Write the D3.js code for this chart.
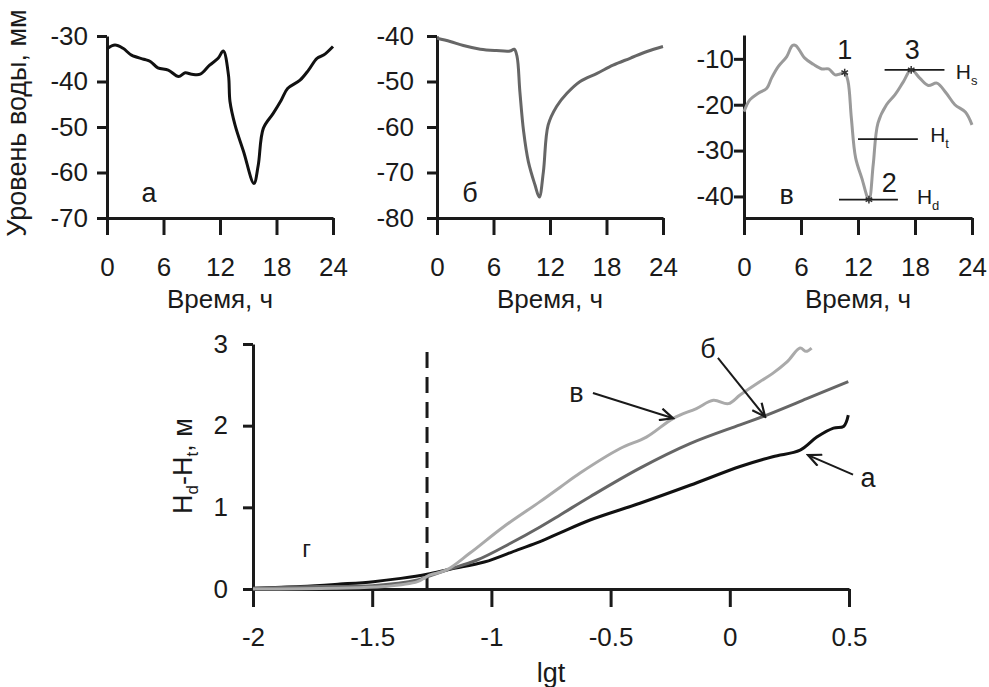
<!DOCTYPE html>
<html>
<head>
<meta charset="utf-8">
<script src="https://cdn.jsdelivr.net/npm/d3@7"></script>
<style>
  body { margin: 0; background: #fff; }
  svg { font-family: "Liberation Sans", Arial, sans-serif; }
  .axis path, .axis line { stroke: #1a1a1a; stroke-width: 3; }
  .axis text { font-size: 26px; fill: #1a1a1a; font-family: "Liberation Sans", Arial, sans-serif; }
</style>
</head>
<body>
<script>
// --- top panels: water level over 24 h
const hourTicks = [0, 6, 12, 18, 24];

const hoursA = [0, 0.85, 1.7, 2.6, 3.9, 4.6, 5.4, 6.5, 7.6, 8.3, 9.0, 9.9, 10.9, 11.8, 12.35, 12.9, 13.06, 13.6, 14.5, 15.6, 16.06, 16.6, 17.65, 18.5, 19.2, 20.5, 21.4, 22.3, 23.0, 24.0];
const levelA = [-32.8, -32.0, -32.7, -34.2, -35.1, -35.6, -37.0, -37.5, -38.9, -38.1, -38.4, -38.4, -36.4, -34.9, -33.3, -38.6, -44.4, -49.6, -55.4, -62.4, -58.4, -50.3, -47.0, -44.1, -41.5, -39.7, -37.5, -34.9, -34.2, -32.3];
const ticksA = [-30, -40, -50, -60, -70];

const hoursB = [0, 1.4, 2.8, 4.6, 6.3, 7.75, 8.2, 8.5, 8.8, 9.2, 9.7, 10.4, 10.86, 11.3, 11.8, 12.7, 13.8, 15.2, 17.0, 18.7, 20.5, 22.3, 24.0];
const levelB = [-40.5, -41.2, -42.1, -42.9, -43.2, -43.3, -42.9, -44.5, -52.2, -61.0, -67.6, -72.7, -75.4, -69.8, -59.6, -55.5, -52.6, -50.0, -48.2, -46.4, -44.9, -43.4, -42.3];
const ticksB = [-40, -50, -60, -70, -80];

const hoursV = [0, 0.63, 1.5, 2.4, 2.9, 3.6, 4.5, 5.1, 5.45, 6.4, 7.3, 8.2, 8.9, 9.6, 10.1, 10.6, 10.95, 11.3, 11.75, 12.4, 13.15, 13.6, 14.1, 15.0, 15.9, 16.8, 17.6, 18.5, 19.4, 20.3, 21.3, 22.2, 23.3, 24.0];
const levelV = [-21.5, -18.9, -17.5, -16.4, -14.2, -11.7, -9.5, -7.1, -7.1, -9.85, -11.2, -12.2, -12.2, -13.5, -13.3, -13.0, -14.9, -22.9, -31.6, -36.0, -40.7, -33.1, -24.0, -20.0, -17.8, -14.9, -12.4, -14.2, -15.8, -15.3, -17.5, -20.0, -21.6, -24.4];
const ticksV = [-10, -20, -30, -40];
const keyPointHours = [10.6, 13.15, 17.6];
const keyPointLevels = [-13.0, -40.7, -12.4];
const keyPointNames = ["1", "2", "3"];

// --- bottom panel: Hd-Ht vs lgt
const lgtTicks = [-2, -1.5, -1, -0.5, 0, 0.5];
const dhTicks = [0, 1, 2, 3];
const dashedLgt = -1.27;

const lgtA = [-2, -1.8, -1.635, -1.495, -1.38, -1.27, -1.17, -1.03, -0.89, -0.796, -0.71, -0.586, -0.377, -0.167, 0.043, 0.18, 0.295, 0.365, 0.435, 0.477, 0.497];
const dhA  = [0.01, 0.03, 0.06, 0.09, 0.13, 0.18, 0.245, 0.33, 0.48, 0.58, 0.69, 0.845, 1.05, 1.27, 1.50, 1.62, 1.70, 1.86, 1.97, 1.99, 2.13];

const lgtB = [-2, -1.73, -1.5, -1.31, -1.27, -1.19, -1.06, -0.92, -0.796, -0.71, -0.586, -0.377, -0.167, 0.043, 0.155, 0.323, 0.497];
const dhB  = [0.01, 0.03, 0.04, 0.11, 0.15, 0.23, 0.355, 0.56, 0.76, 0.91, 1.13, 1.48, 1.78, 2.01, 2.13, 2.33, 2.54];

const lgtV = [-2, -1.66, -1.45, -1.31, -1.26, -1.19, -1.09, -0.95, -0.796, -0.71, -0.628, -0.46, -0.35, -0.237, -0.14, -0.069, -0.006, 0.043, 0.127, 0.18, 0.24, 0.295, 0.32, 0.343];
const dhV  = [0.0, 0.01, 0.03, 0.09, 0.17, 0.23, 0.44, 0.76, 1.07, 1.25, 1.42, 1.72, 1.86, 2.09, 2.21, 2.31, 2.27, 2.375, 2.54, 2.64, 2.78, 2.95, 2.91, 2.95];

const W = 989, H = 687;
const svg = d3.select("body").append("svg")
    .attr("width", W)
    .attr("height", H);
svg.append("rect").attr("width", W).attr("height", H).attr("fill", "#fff");

svg.append("defs").append("marker")
    .attr("id", "arr")
    .attr("viewBox", "-14 -7 16 14")
    .attr("markerWidth", 16).attr("markerHeight", 14)
    .attr("markerUnits", "userSpaceOnUse")
    .attr("refX", 0).attr("refY", 0)
    .attr("orient", "auto")
    .append("path")
    .attr("d", "M-13,-6L0,0L-13,6")
    .attr("fill", "none")
    .attr("stroke", "#1a1a1a")
    .attr("stroke-width", 2.2);

const fmt = d => String(d);

function topPanel(hours, levels, yTicks, yDomain, box, color, pad, letter, letterPos) {
    const x = d3.scaleLinear().domain([0, 24]).range([box.left, box.right]);
    const y = d3.scaleLinear().domain(yDomain).range([218, box.top]);

    svg.append("g").attr("class", "axis")
        .attr("transform", "translate(0,218)")
        .call(d3.axisBottom(x).tickValues(hourTicks).tickSize(17).tickSizeOuter(0).tickPadding(23).tickFormat(fmt));

    svg.append("g").attr("class", "axis")
        .attr("transform", `translate(${box.left},0)`)
        .call(d3.axisLeft(y).tickValues(yTicks).tickSize(10).tickSizeOuter(0).tickPadding(pad).tickFormat(fmt));

    svg.append("path")
        .datum(d3.zip(hours, levels))
        .attr("fill", "none")
        .attr("stroke", color)
        .attr("stroke-width", 3)
        .attr("stroke-linejoin", "round")
        .attr("d", d3.line().curve(d3.curveCatmullRom.alpha(0.5)).x(d => x(d[0])).y(d => y(d[1])));

    svg.append("text")
        .attr("x", x(letterPos[0])).attr("y", y(letterPos[1]))
        .attr("text-anchor", "middle").attr("dy", "0.35em")
        .attr("font-size", 27).attr("fill", "#1a1a1a")
        .text(letter);

    svg.append("text")
        .attr("x", (box.left + box.right) / 2).attr("y", 308)
        .attr("text-anchor", "middle")
        .attr("font-size", 26).attr("fill", "#1a1a1a")
        .text("Время, ч");
    return {x, y};
}

topPanel(hoursA, levelA, ticksA, [-70, -30], {left: 107, right: 333, top: 36}, "#111", 9, "а", [4.46, -64.3]);
topPanel(hoursB, levelB, ticksB, [-80, -40], {left: 437, right: 663, top: 36}, "#666", 13, "б", [3.5, -74.5]);
const pv = topPanel(hoursV, levelV, ticksV, [-44.7, -4.8], {left: 744, right: 972, top: 35}, "#9a9a9a", 0, "в", [4.5, -39.6]);

svg.append("text")
    .attr("transform", "translate(26,123) rotate(-90)")
    .attr("text-anchor", "middle")
    .attr("font-size", 27).attr("fill", "#1a1a1a")
    .text("Уровень воды, мм");

// reference levels on panel в
const refLines = [
    {h0: 14.8, h1: 21.1, v: -12.4, label: "s", lh: 22.3, lv: -12.8},
    {h0: 12.0, h1: 18.3, v: -27.5, label: "t", lh: 19.6, lv: -26.6},
    {h0: 10.0, h1: 16.2, v: -40.7, label: "d", lh: 18.2, lv: -40.1}
];
refLines.forEach(r => {
    svg.append("line")
        .attr("x1", pv.x(r.h0)).attr("x2", pv.x(r.h1))
        .attr("y1", pv.y(r.v)).attr("y2", pv.y(r.v))
        .attr("stroke", "#1a1a1a").attr("stroke-width", 1.6);
    const t = svg.append("text")
        .attr("x", pv.x(r.lh)).attr("y", pv.y(r.lv)).attr("dy", "0.35em")
        .attr("font-size", 21).attr("fill", "#1a1a1a");
    t.append("tspan").text("H");
    t.append("tspan").attr("font-size", 13).attr("dy", 6).text(r.label);
});

svg.selectAll(".keypt")
    .data(d3.zip(keyPointHours, keyPointLevels))
    .join("path")
    .attr("class", "keypt")
    .attr("transform", d => `translate(${pv.x(d[0])},${pv.y(d[1])})`)
    .attr("d", d3.symbol(d3.symbolAsterisk, 40))
    .attr("fill", "none").attr("stroke", "#333").attr("stroke-width", 1.5);

const keyLabelPos = [[10.6, -8.0], [15.3, -37.0], [17.7, -8.0]];
keyLabelPos.forEach((p, i) => {
    svg.append("text")
        .attr("x", pv.x(p[0])).attr("y", pv.y(p[1])).attr("dy", "0.35em")
        .attr("text-anchor", "middle")
        .attr("font-size", 27).attr("fill", "#1a1a1a")
        .text(keyPointNames[i]);
});

// --- bottom panel
const bx = d3.scaleLinear().domain([-2, 0.5]).range([253, 849]);
const by = d3.scaleLinear().domain([0, 3]).range([589, 344]);

svg.append("g").attr("class", "axis")
    .attr("transform", "translate(0,589)")
    .call(d3.axisBottom(bx).tickValues(lgtTicks).tickSize(18).tickSizeOuter(0).tickPadding(21).tickFormat(fmt));

svg.append("g").attr("class", "axis")
    .attr("transform", "translate(253,0)")
    .call(d3.axisLeft(by).tickValues(dhTicks).tickSize(10).tickSizeOuter(0).tickPadding(15).tickFormat(fmt));

svg.append("line")
    .attr("x1", bx(dashedLgt)).attr("x2", bx(dashedLgt))
    .attr("y1", 352).attr("y2", by(0))
    .attr("stroke", "#1a1a1a").attr("stroke-width", 3)
    .attr("stroke-dasharray", "16,9");

const bottomSeries = [
    {xs: lgtA, ys: dhA, color: "#111"},
    {xs: lgtB, ys: dhB, color: "#666"},
    {xs: lgtV, ys: dhV, color: "#aaa"}
];
bottomSeries.forEach(s => {
    svg.append("path")
        .datum(d3.zip(s.xs, s.ys))
        .attr("fill", "none")
        .attr("stroke", s.color)
        .attr("stroke-width", 3)
        .attr("stroke-linejoin", "round")
        .attr("d", d3.line().curve(d3.curveCatmullRom.alpha(0.5)).x(d => bx(d[0])).y(d => by(d[1])));
});

const arrows = [
    {label: "в", lx: -0.643, ly: 2.40, x0: -0.574, y0: 2.40, x1: -0.238, y1: 2.09},
    {label: "б", lx: -0.091, ly: 2.95, x0: -0.05, y0: 2.83, x1: 0.148, y1: 2.11},
    {label: "а", lx: 0.58, ly: 1.37, x0: 0.517, y0: 1.40, x1: 0.328, y1: 1.64}
];
arrows.forEach(a => {
    svg.append("line")
        .attr("x1", bx(a.x0)).attr("y1", by(a.y0))
        .attr("x2", bx(a.x1)).attr("y2", by(a.y1))
        .attr("stroke", "#1a1a1a").attr("stroke-width", 2)
        .attr("marker-end", "url(#arr)");
    svg.append("text")
        .attr("x", bx(a.lx)).attr("y", by(a.ly)).attr("dy", "0.35em")
        .attr("text-anchor", "middle")
        .attr("font-size", 27).attr("fill", "#1a1a1a")
        .text(a.label);
});

svg.append("text")
    .attr("x", bx(-1.775)).attr("y", by(0.5)).attr("dy", "0.35em")
    .attr("text-anchor", "middle")
    .attr("font-size", 24).attr("fill", "#1a1a1a")
    .text("г");

svg.append("text")
    .attr("x", 551).attr("y", 682)
    .attr("text-anchor", "middle")
    .attr("font-size", 27).attr("fill", "#1a1a1a")
    .text("lgt");

const yl = svg.append("text")
    .attr("transform", "translate(192,466) rotate(-90)")
    .attr("text-anchor", "middle")
    .attr("font-size", 27).attr("fill", "#1a1a1a");
yl.append("tspan").text("H");
yl.append("tspan").attr("font-size", 17).attr("dy", 6).text("d");
yl.append("tspan").attr("dy", -6).text("-H");
yl.append("tspan").attr("font-size", 17).attr("dy", 6).text("t");
yl.append("tspan").attr("dy", -6).text(", м");
</script>
</body>
</html>
